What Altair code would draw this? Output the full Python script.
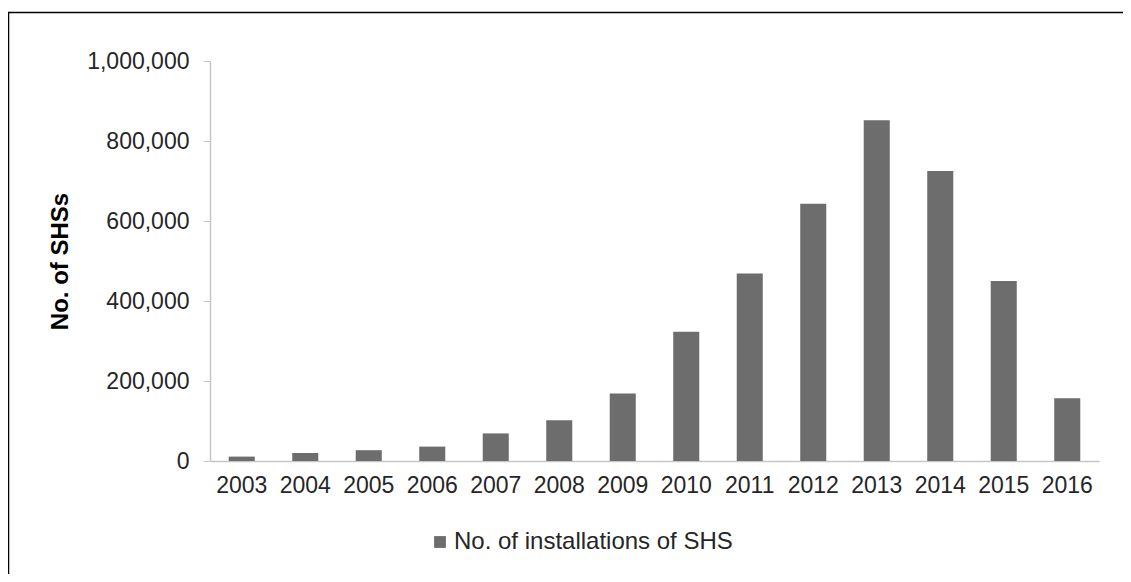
import altair as alt
import pandas as pd

years = ["2003", "2004", "2005", "2006", "2007", "2008", "2009",
         "2010", "2011", "2012", "2013", "2014", "2015", "2016"]
installs = [11000, 20000, 27000, 36000, 69000, 102000, 169000,
            323000, 469000, 643000, 852000, 725000, 450000, 157000]
series_name = "No. of installations of SHS"
y_ticks = [0, 200000, 400000, 600000, 800000, 1000000]

df = pd.DataFrame({"year": years, "value": installs, "series": series_name})

FONT = "Liberation Sans"

bars = alt.Chart(df).mark_bar(color="#6d6d6d").encode(
    x=alt.X("year:N", sort=years, title=None,
            scale=alt.Scale(paddingInner=0.59, paddingOuter=0.295),
            axis=alt.Axis(labelAngle=0, ticks=False, domainColor="#c6c6c6",
                          domainWidth=1.5, labelFontSize=23, labelPadding=13,
                          labelColor="#262626", labelFont=FONT)),
    y=alt.Y("value:Q", title="No. of SHSs",
            scale=alt.Scale(domain=[0, 1000000], nice=False),
            axis=alt.Axis(values=y_ticks, format=",d", grid=False,
                          tickSize=7, tickColor="#c6c6c6", domainColor="#c6c6c6",
                          domainWidth=1.5, labelFontSize=23, labelPadding=14,
                          labelColor="#262626", labelFont=FONT,
                          titleFont=FONT, titleFontSize=24, titleFontWeight="bold",
                          titleColor="#000000", titlePadding=14)),
    color=alt.Color("series:N", scale=alt.Scale(range=["#6d6d6d"]),
                    legend=alt.Legend(title=None, orient="none", legendX=218,
                                      legendY=469, symbolType="square",
                                      symbolSize=140, labelFontSize=24,
                                      labelFont=FONT, labelColor="#262626",
                                      symbolStrokeWidth=0, padding=0,
                                      labelOffset=2, labelLimit=0)),
)

border = alt.Chart(pd.DataFrame({"a": [0]})).mark_rect(
    filled=False, stroke="#000000", strokeWidth=1.5
).encode(
    x=alt.value(-201.5), x2=alt.value(1200),
    y=alt.value(-48.5), y2=alt.value(700),
)

chart = alt.layer(bars, border).properties(
    width=889, height=400,
    autosize=alt.AutoSizeParams(type="none"),
    padding={"left": 202, "top": 53, "right": 24, "bottom": 113},
).configure_view(stroke=None)

chart.save("out.html", embed_options={"renderer": "svg", "actions": False})
